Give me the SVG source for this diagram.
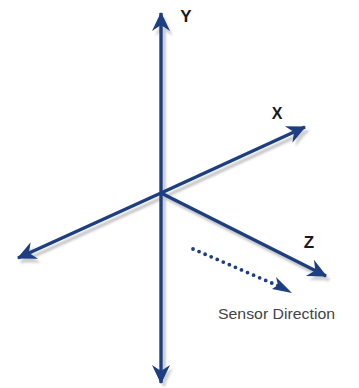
<svg xmlns="http://www.w3.org/2000/svg" width="359" height="388" viewBox="0 0 359 388">
<style>
.ax{stroke:#1d3f82;stroke-width:3.4;fill:none}
.sh{stroke:#b8b8b8;stroke-width:3.4;fill:none}
.lbl{font-family:"Liberation Sans",Arial,sans-serif;font-weight:bold;fill:#1a1a1a}
</style>
<defs>
<marker id="ah" viewBox="-20 -10 22 20" refX="0" refY="0" markerWidth="22" markerHeight="20" markerUnits="userSpaceOnUse" orient="auto">
<path d="M1,0 L-18,-9 L-12,0 L-18,9 Z" fill="#1d3f82"/>
</marker>
<marker id="ahs" viewBox="-20 -10 22 20" refX="0" refY="0" markerWidth="22" markerHeight="20" markerUnits="userSpaceOnUse" orient="auto">
<path d="M1,0 L-18,-9 L-12,0 L-18,9 Z" fill="#c4c4c4"/>
</marker>
<filter id="bl" x="-10%" y="-10%" width="120%" height="120%"><feGaussianBlur stdDeviation="1.3"/></filter>
</defs>
<g id="connectors">
<g filter="url(#bl)" opacity="0.8">
<line class="sh" x1="164" y1="197" x2="164" y2="18" marker-end="url(#ahs)"/>
<line class="sh" x1="164" y1="197" x2="164" y2="386" marker-end="url(#ahs)"/>
<line class="sh" x1="164" y1="197" x2="308" y2="131" marker-end="url(#ahs)"/>
<line class="sh" x1="164" y1="197" x2="21" y2="262" marker-end="url(#ahs)"/>
<line class="sh" x1="164" y1="197" x2="329" y2="280" marker-end="url(#ahs)"/>
</g>
<line class="ax" x1="161" y1="193" x2="161" y2="13" marker-end="url(#ah)"/>
<line class="ax" x1="161" y1="193" x2="161" y2="383" marker-end="url(#ah)"/>
<line class="ax" x1="161" y1="193" x2="305" y2="127" marker-end="url(#ah)"/>
<line class="ax" x1="161" y1="193" x2="18" y2="258" marker-end="url(#ah)"/>
<line class="ax" x1="161" y1="193" x2="326" y2="276" marker-end="url(#ah)"/>
<line x1="193" y1="249" x2="281" y2="287" stroke="#1d3f82" stroke-width="3.8" stroke-linecap="round" stroke-dasharray="0 6.6"/>
<path d="M292,293 L272,289 L278,285 L276,277 Z" fill="#1d3f82"/>
</g>
<g id="label-y"><text class="lbl" x="186" y="22" font-size="17" text-anchor="middle">Y</text></g>
<g id="label-x"><text class="lbl" x="277" y="119" font-size="16" text-anchor="middle">X</text></g>
<g id="label-z"><text class="lbl" x="309" y="248" font-size="17" text-anchor="middle">Z</text></g>
<g id="label-sensor"><text x="218" y="319" font-family="'Liberation Sans',Arial,sans-serif" font-size="14.5" fill="#444444" textLength="117" lengthAdjust="spacingAndGlyphs">Sensor Direction</text></g>
</svg>
